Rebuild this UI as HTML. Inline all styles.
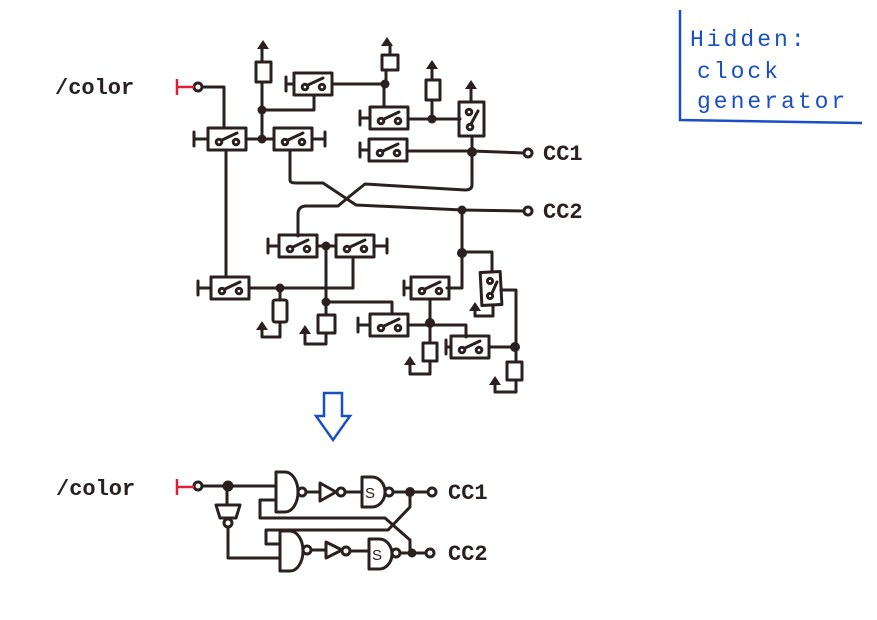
<!DOCTYPE html>
<html><head><meta charset="utf-8"><style>
html,body{margin:0;padding:0;background:#fff}
svg{display:block}
.t{font-family:"Liberation Mono",monospace;fill:#2a2020;font-size:22px;font-weight:bold}
.b{font-family:"Liberation Mono",monospace;fill:#1a4fc4;font-size:23px;letter-spacing:3px}
</style></head><body>
<svg width="877" height="620" viewBox="0 0 877 620" xmlns="http://www.w3.org/2000/svg">
<defs>
<g id="sw" fill="none" stroke="#2a2020" stroke-width="3">
<rect x="-19" y="-11" width="38" height="22"/>
<circle cx="-8" cy="3" r="2.8"/><circle cx="9" cy="3" r="2.8"/>
<line x1="-5" y1="1" x2="10" y2="-6"/>
</g>
<g id="up" fill="#2a2020" stroke="none"><polygon points="0,0 -6,9 6,9"/></g>
</defs>
<g fill="none" stroke="#2a2020" stroke-width="3" stroke-linecap="round" stroke-linejoin="round">
<path d="M202,87 H224 V128"/>
<use href="#sw" x="227" y="139"/>
<path d="M208,139 H194 M194,132 V146"/>
<path d="M246,139 H274"/>
<path d="M262,139 V82 M262,62 V46"/>
<rect x="256" y="62" width="15" height="20"/>
<path d="M262,110 H314 V96"/>
<use href="#sw" x="313" y="84"/>
<path d="M294,84 H286 M286,77 V91"/>
<path d="M332,84 H384 V107 M386,84 V70 M390,55 V44"/>
<rect x="382" y="55" width="16" height="15"/>
<use href="#sw" x="389" y="118"/>
<path d="M370,118 H360 M360,111 V125"/>
<path d="M408,119 H460 M432,119 V100 M432,80 V67"/>
<rect x="426" y="80" width="14" height="20"/>
<rect x="459" y="102" width="25" height="34"/>
<circle cx="469" cy="112" r="2.8"/><circle cx="470" cy="127" r="2.8"/>
<line x1="471" y1="124" x2="478" y2="111"/>
<path d="M471,102 V86 M472,136 V185 Q472,190 465,190 L365,184 L350,196 L338,206 L305,206 Q298,207 298,214 V236"/>
<use href="#sw" x="388" y="150"/>
<path d="M369,150 H360 M360,143 V157"/>
<path d="M407,151 H472 L524,153"/>
<circle cx="528" cy="153" r="4"/>
<use href="#sw" x="293" y="139"/>
<path d="M312,139 H325 M325,132 V146"/>
<path d="M290,150 V180 Q290,183 296,183 L323,183 L356,205 L462,210 L524,211"/>
<circle cx="528" cy="211" r="4"/>
<path d="M462,210 V288 H447"/>
<path d="M226,150 V275"/>
<use href="#sw" x="230" y="288"/>
<path d="M211,288 H198 M198,281 V295"/>
<path d="M249,288 H353 V257"/>
<path d="M280,288 V300 M280,322 V337 H262 V328"/>
<rect x="273" y="300" width="14" height="22" rx="2"/>
<use href="#sw" x="298" y="246"/>
<path d="M279,246 H268 M268,239 V253"/>
<path d="M317,246 H336"/>
<use href="#sw" x="355" y="246"/>
<path d="M374,246 H387 M387,239 V253"/>
<path d="M326,246 V315 M326,333 V344 H305 V333"/>
<rect x="318" y="315" width="17" height="18"/>
<path d="M326,302 H392 V313"/>
<use href="#sw" x="389" y="325"/>
<path d="M370,325 H358 M358,318 V332"/>
<path d="M408,325 H466 V337"/>
<use href="#sw" x="430" y="288"/>
<path d="M411,288 H404 M404,281 V295"/>
<path d="M430,299 V343 M430,361 V374 H410 V364"/>
<rect x="423" y="343" width="14" height="18"/>
<path d="M462,252 H492 V272"/>
<rect x="481" y="272" width="20" height="33" transform="rotate(-3 491 288)"/>
<circle cx="490" cy="281" r="2.6"/><circle cx="490" cy="296" r="2.6"/>
<line x1="492" y1="293" x2="497" y2="282"/>
<path d="M493,305 V316 H475 V309 M501,290 H516 V362"/>
<use href="#sw" x="470" y="347"/>
<path d="M451,347 H446 M446,340 V354"/>
<path d="M489,347 H514"/>
<path d="M516,380 V392 H495 V383"/>
<rect x="507" y="362" width="15" height="18"/>
<path d="M202,486 H275"/>
<path d="M276,472 H285 A13,20 0 0 1 285,512 H276 Z"/>
<path d="M276,500 H260 V518 H385 L410,540 V553"/>
<path d="M410,492 V507 L388,530 H266 V544 H280"/>
<circle cx="302" cy="492" r="4"/>
<path d="M306,492 H320 M320,483 L336,492 L320,501 Z"/>
<circle cx="341" cy="492" r="4"/>
<path d="M345,492 H362"/>
<path d="M362,477 H372 A13,15 0 0 1 372,507 H362 Z"/>
<circle cx="389" cy="492" r="4"/>
<path d="M393,492 H428"/>
<circle cx="432" cy="492" r="4"/>
<path d="M227,486 V505 M216,505 H240 L236,518 H220 Z"/>
<circle cx="228" cy="523" r="4"/>
<path d="M228,527 V558 H280"/>
<path d="M280,531 H290 A13,20 0 0 1 290,571 H280 Z"/>
<circle cx="307" cy="550" r="4"/>
<path d="M311,550 H326 M326,542 L342,550 L326,558 Z"/>
<circle cx="346" cy="551" r="4"/>
<path d="M350,551 H369"/>
<path d="M369,539 H379 A13,15 0 0 1 379,569 H369 Z"/>
<circle cx="396" cy="553" r="4"/>
<path d="M400,553 H426"/>
<circle cx="430" cy="553" r="4"/>
</g>
<g fill="#2a2020">
<circle cx="262" cy="139" r="4.5"/><circle cx="262" cy="110" r="4.5"/>
<circle cx="385" cy="84" r="4.5"/><circle cx="432" cy="119" r="4.5"/>
<circle cx="472" cy="152" r="5"/><circle cx="462" cy="210" r="4.5"/>
<circle cx="462" cy="253" r="5"/><circle cx="280" cy="288" r="4.5"/>
<circle cx="326" cy="246" r="4.5"/><circle cx="326" cy="302" r="4.5"/>
<circle cx="430" cy="323" r="5"/><circle cx="515" cy="347" r="5"/>
<circle cx="228" cy="486" r="5.5"/><circle cx="410" cy="492" r="5"/>
<circle cx="412" cy="553" r="4.5"/>
</g>
<g fill="none" stroke="#2a2020" stroke-width="3"><circle cx="198" cy="87" r="4"/><circle cx="198" cy="486" r="4"/></g>
<use href="#up" x="263" y="40"/><use href="#up" x="387" y="37"/>
<use href="#up" x="432" y="60"/><use href="#up" x="471" y="80"/>
<use href="#up" x="262" y="321"/><use href="#up" x="305" y="325"/>
<use href="#up" x="475" y="302"/><use href="#up" x="410" y="356"/>
<use href="#up" x="495" y="376"/>
<g stroke="#e0203a" stroke-width="2.5"><path d="M177,79 V95 M177,87 H194 M177,479 V495 M177,487 H194"/></g>
<text class="t" x="55" y="94">/color</text>
<text class="t" x="56" y="495">/color</text>
<text class="t" x="543" y="160">CC1</text>
<text class="t" x="543" y="218">CC2</text>
<text class="t" x="448" y="499">CC1</text>
<text class="t" x="448" y="560">CC2</text>
<text x="365" y="498" font-family="Liberation Sans,sans-serif" font-size="15" fill="#2a2020">S</text>
<text x="372" y="560" font-family="Liberation Sans,sans-serif" font-size="15" fill="#2a2020">S</text>
<path d="M324,393 H342 V416 H350 L333,440 L316,416 H324 Z" fill="none" stroke="#1a4fc4" stroke-width="2.5"/>
<path d="M680,10 V120 L862,123" fill="none" stroke="#1a4fc4" stroke-width="2.5"/>
<text class="b" x="690" y="46">Hidden:</text>
<text class="b" x="697" y="78">clock</text>
<text class="b" x="697" y="108">generator</text>
</svg>
</body></html>
